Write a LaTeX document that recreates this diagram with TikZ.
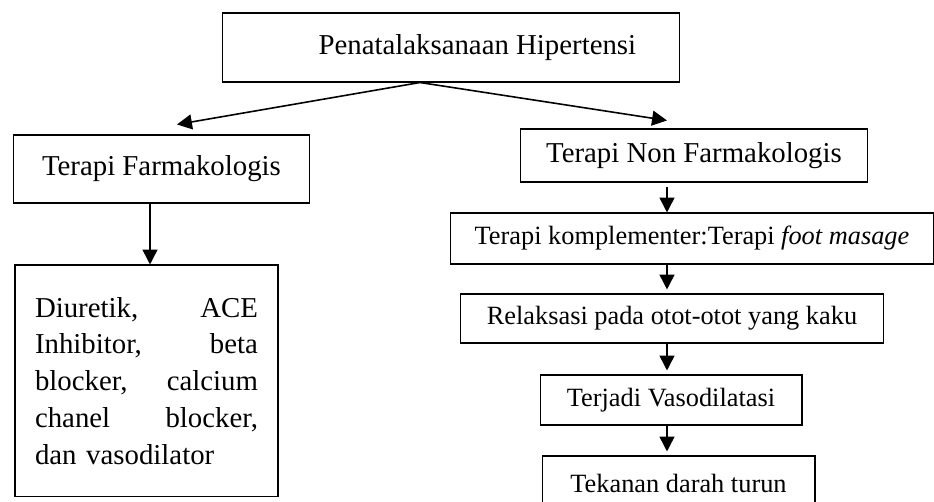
\documentclass[tikz,border=0pt]{standalone}
\usepackage{fontspec}
\setmainfont{Liberation Serif}
\usetikzlibrary{arrows.meta}
\begin{document}
\begin{tikzpicture}[x = {(0.02cm,0cm)},
  y = {(0cm,-0.02cm)},
  box/.style = {draw, line width=0.6pt, inner sep=0pt,
    font=\fontsize{16.4}{19}\selectfont},
  smallbox/.style = {box, font=\fontsize{15}{18}\selectfont},
  arr/.style = {-{Triangle[length=8.5pt,width=8.5pt]}, line width=0.9pt}]

  % page frame
  \clip (0,0) rectangle (934,502);

  % columns of the vertical arrows
  \coordinate (lcol) at (150,0);
  \coordinate (spine) at (667,0);

  % top
  \node[box, minimum width=9.16cm, minimum height=1.38cm] (pena) at (451,47.5)
  {\hspace*{30pt}Penatalaksanaan Hipertensi};

  % left branch
  \node[box, minimum width=5.94cm, minimum height=1.36cm] (farm) at (161.5,169)
  {Terapi Farmakologis};
  \node[box, minimum width=5.26cm, minimum height=4.64cm, text width=4.46cm,
  align=left, font=\fontsize{16.4}{21}\selectfont] (diur) at (146.5,381)
  {Diuretik,\hfill ACE\\ Inhibitor,\hfill beta\\ blocker,\hfill calcium\\
    chanel\hfill blocker,\\ dan vasodilator};

  % right branch
  \node[box, minimum width=6.96cm, minimum height=1.06cm] (nonf) at (694,155.5)
  {Terapi Non Farmakologis};
  \node[smallbox, minimum width=9.68cm, minimum height=1.02cm] (komp) at (692,238.5)
  {Terapi komplementer:Terapi \textit{foot masage}};
  \node[smallbox, minimum width=8.48cm, minimum height=0.98cm] (rela) at (672,318.5)
  {Relaksasi pada otot-otot yang kaku};
  \node[smallbox, minimum width=5.24cm, minimum height=1.00cm] (vaso) at (671,400)
  {Terjadi Vasodilatasi};
  \node[smallbox, minimum width=5.46cm, minimum height=1.08cm] (teka) at (678.5,483)
  {Tekanan darah turun};

  % arrows
  \draw[arr] ([xshift=-0.62cm]pena.south) -- ([xshift=0.31cm,yshift=0.2cm]farm.north);
  \draw[arr] ([xshift=-0.62cm]pena.south) -- ([xshift=-0.54cm,yshift=0.16cm]nonf.north);
  \draw[arr] (farm.south -| lcol) -- (diur.north -| lcol);
  \draw[arr, shorten <=0.08cm] (nonf.south -| spine) -- (komp.north -| spine);
  \foreach \a/\b in {komp/rela, rela/vaso, vaso/teka}
  \draw[arr, shorten >=0.08cm] (\a.south -| spine) -- (\b.north -| spine);

\end{tikzpicture}
\end{document}
